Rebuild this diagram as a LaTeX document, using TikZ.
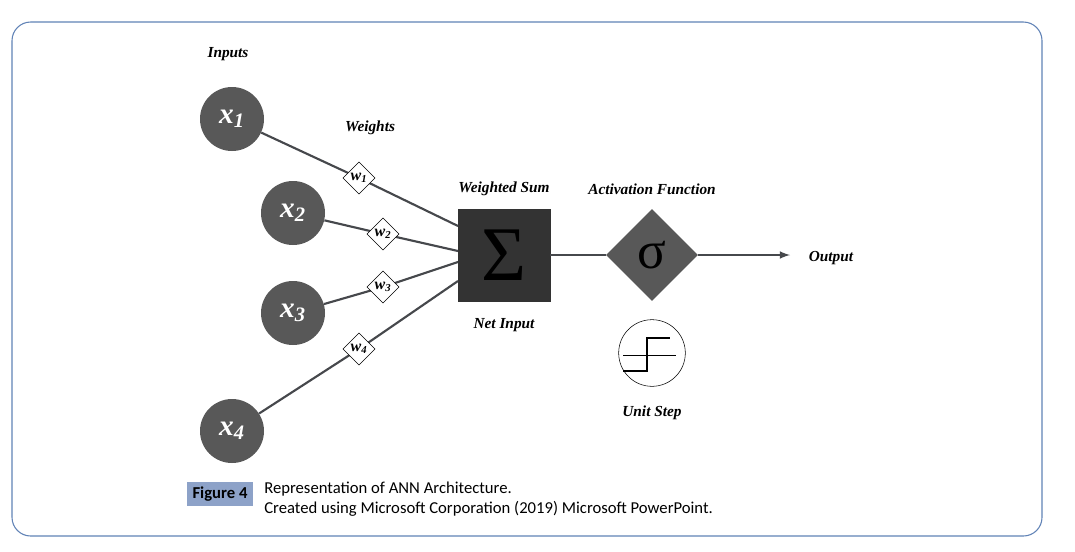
\documentclass[tikz,border=0pt]{standalone}
\usepackage{fontspec}
\newfontfamily\capfont{Carlito}
\newfontfamily\lblfont{Liberation Serif}
\usepackage{xcolor}
\usetikzlibrary{arrows,shapes.geometric}
\definecolor{frameblue}{RGB}{96,130,182}
\definecolor{figblue}{RGB}{141,162,200}
\definecolor{nodegray}{RGB}{88,88,88}
\definecolor{linegray}{RGB}{70,72,76}

\tikzset{
  lbl/.style={font=\lblfont\bfseries\itshape\fontsize{11.5}{11.5}\selectfont},
  inp/.style={circle,minimum size=48pt,fill=nodegray,text=white,
              font=\lblfont\bfseries\itshape\fontsize{22}{22}\selectfont},
  wgt/.style={diamond,draw=black,fill=white,inner sep=0pt,minimum size=24pt,
              font=\lblfont\bfseries\itshape\fontsize{12}{12}\selectfont},
  link/.style={linegray,line width=1.6pt},
}

\begin{document}
\begin{tikzpicture}[x=0.75pt,y=-0.75pt]
    \useasboundingbox (0,0) rectangle (1075,551);
    \draw[frameblue,line width=0.8pt,rounded corners=14pt] (12,22) rectangle (1042,536);

    % inputs and weights
    \node[lbl] (inputs) at (228,54) {Inputs};
    \node[lbl] (weights) at (370,128) {Weights};
    \node[inp] (x1) at (232,119) {x\textsubscript{1}};
    \node[inp] (x2) at (293,213) {x\textsubscript{2}};
    \node[inp] (x3) at (293,313) {x\textsubscript{3}};
    \node[inp] (x4) at (232,431) {x\textsubscript{4}};
    \coordinate (w1) at (359,178);
    \coordinate (w2) at (383,234);
    \coordinate (w3) at (383,287);
    \coordinate (w4) at (359,349);

    % summing junction
    \node[draw=black!80,fill=black!80,minimum size=69pt,inner sep=0pt,
          text=black,font=\lblfont\fontsize{58}{58}\selectfont] (sum) at (504,255) {Σ};
    \node[lbl] (wsum) at (504,189) {Weighted Sum};
    \node[lbl] (netin) at (504,325) {Net Input};
    \coordinate (s1) at (458,226);
    \coordinate (s2) at (458,251);
    \coordinate (s3) at (458,262);
    \coordinate (s4) at (458,281);

    \foreach \i in {1,...,4} {
        \draw[link] (x\i) -- (w\i) -- (s\i);
        \node[wgt] (wn\i) at (w\i) {w\textsubscript{\i}};
    }

    % activation
    \node[diamond,fill=nodegray,minimum size=69pt,inner sep=0pt,
          font=\lblfont\fontsize{40}{40}\selectfont] (act) at (652,255) {σ};
    \node[lbl] (actlbl) at (652,189) {Activation Function};
    \coordinate (out) at (790,255);
    \node[lbl] (output) at (831,258) {Output};
    \draw[link] (sum) -- (act);
    \draw[link,>=latex,->] (act) -- (out);

    % unit step
    \node[circle,draw=black,fill=white,minimum size=50pt] (step) at (652,353) {};
    \draw[black,line width=0.5pt] (623,355) -- (676,355);
    \draw[black,line width=1.2pt] (623,371) -- (647,371) -- (647,338) -- (670,338);
    \node[lbl] (steplbl) at (652,413) {Unit Step};

    % caption
    \node[fill=figblue,minimum width=50pt,minimum height=18pt,inner sep=0pt,
          font=\capfont\bfseries\fontsize{12.5}{12.5}\selectfont] (fig) at (220,494) {Figure 4};
    \node[anchor=west,font=\capfont\fontsize{12.5}{15}\selectfont,align=left,inner sep=0pt] (cap) at (264,499)
        {Representation of ANN Architecture.\\Created using Microsoft Corporation (2019) Microsoft PowerPoint.};
\end{tikzpicture}
\end{document}
